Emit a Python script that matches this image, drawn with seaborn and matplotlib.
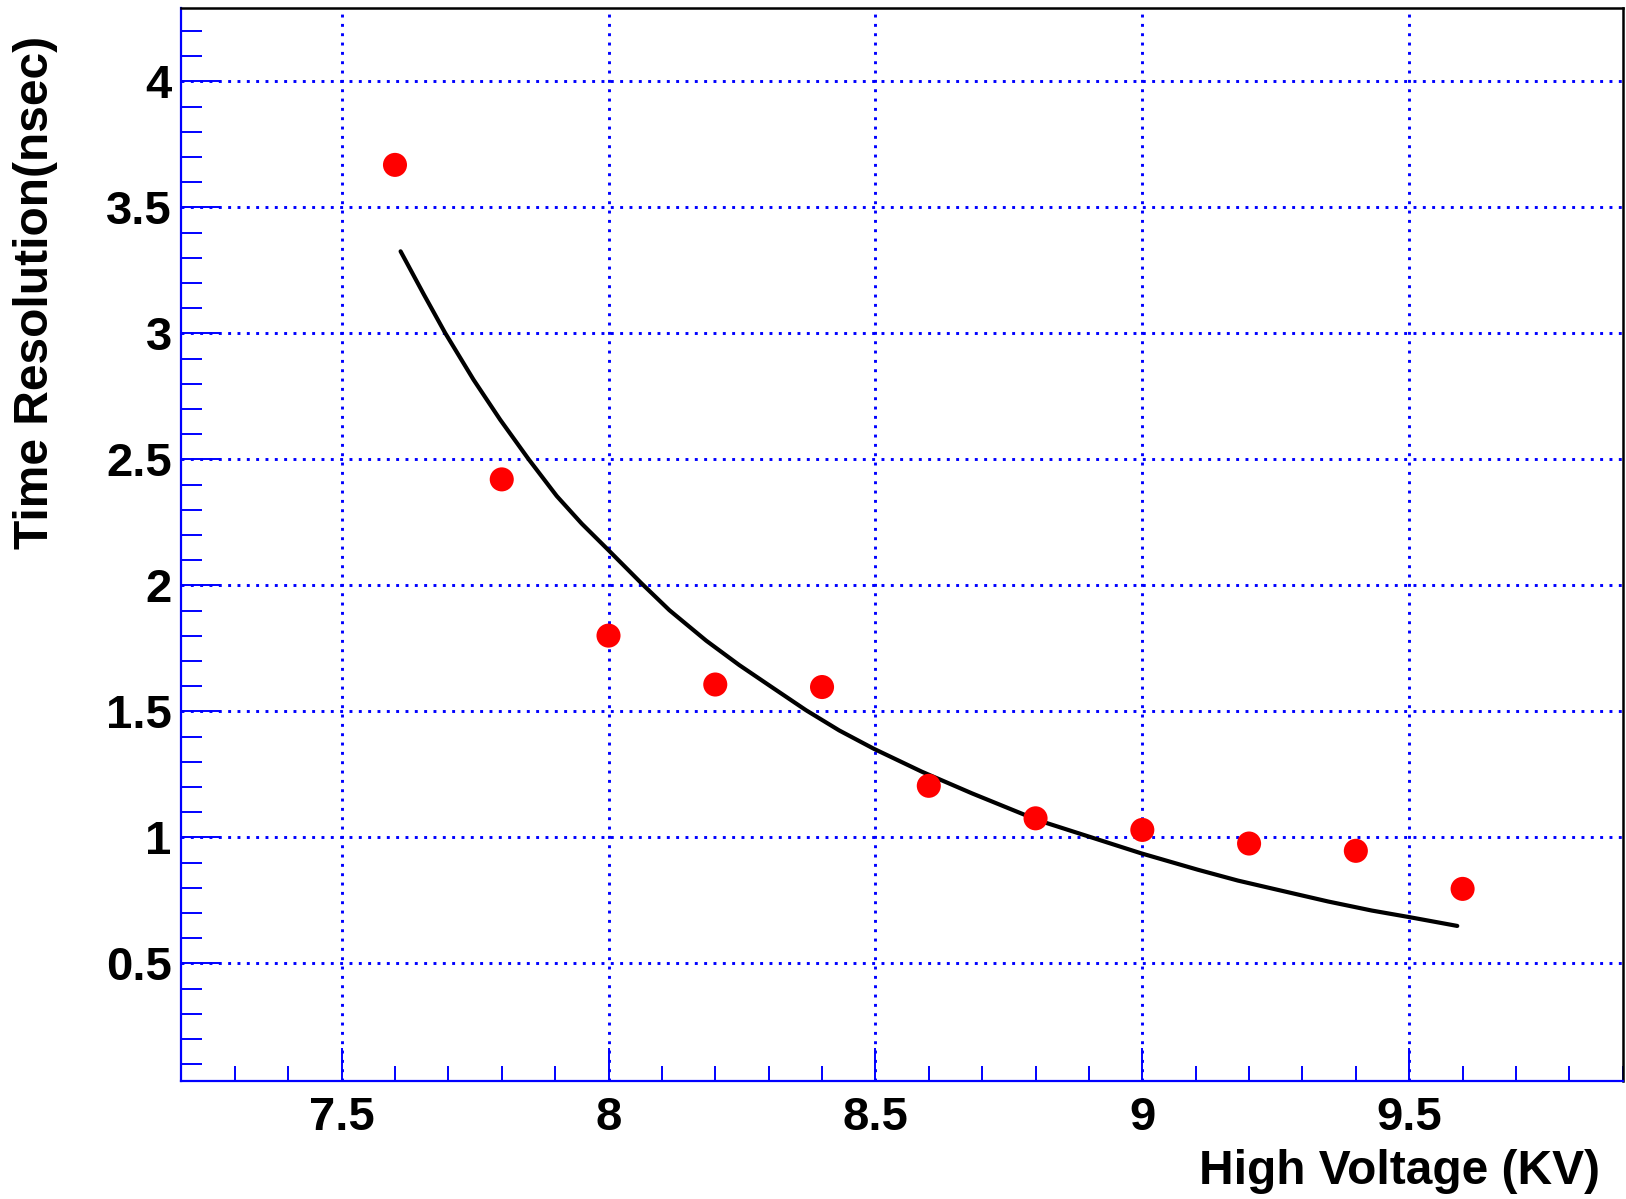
import matplotlib
matplotlib.use("Agg")
import matplotlib.pyplot as plt
from matplotlib.ticker import MultipleLocator, FuncFormatter
import seaborn as sns
import pandas as pd

# Measured points
hv = [7.6, 7.8, 8.0, 8.2, 8.4, 8.6, 8.8, 9.0, 9.2, 9.4, 9.6]
res = [3.669, 2.421, 1.801, 1.607, 1.597, 1.205, 1.076, 1.030, 0.976, 0.947, 0.796]

# Fit curve
fit_x = [7.6105, 7.654, 7.694, 7.747, 7.797, 7.850, 7.903, 7.950, 8.000, 8.062,
         8.114, 8.183, 8.245, 8.307, 8.370, 8.432, 8.497, 8.587, 8.681, 8.805,
         8.998, 9.104, 9.179, 9.248, 9.348, 9.430, 9.500, 9.590]
fit_y = [3.326, 3.155, 3.002, 2.817, 2.658, 2.502, 2.355, 2.245, 2.140, 2.008,
         1.902, 1.781, 1.684, 1.595, 1.505, 1.425, 1.352, 1.261, 1.175, 1.068,
         0.937, 0.872, 0.829, 0.795, 0.746, 0.710, 0.684, 0.649]

x_label = "High Voltage (KV)"
y_label = "Time Resolution(nsec)"

sns.set_style("white")
plt.rcParams["font.family"] = ["Liberation Sans", "DejaVu Sans"]
plt.rcParams["font.weight"] = "bold"
plt.rcParams["text.color"] = "black"
plt.rcParams["axes.labelcolor"] = "black"

fig = plt.figure(figsize=(16.26, 11.99), dpi=100)
ax = fig.add_axes([0.1116, 0.0987, 0.8864, 0.8943])

pts = pd.DataFrame({"hv": hv, "res": res})
fit = pd.DataFrame({"hv": fit_x, "res": fit_y})

sns.lineplot(data=fit, x="hv", y="res", ax=ax, color="black", linewidth=3.0,
             sort=False, estimator=None, zorder=3)
sns.scatterplot(data=pts, x="hv", y="res", ax=ax, color="#ff0000", s=300,
                edgecolor="none", linewidth=0, zorder=4)

ax.set_xlim(7.2, 9.9)
ax.set_ylim(0.035, 4.29)

ax.xaxis.set_major_locator(MultipleLocator(0.5))
ax.xaxis.set_minor_locator(MultipleLocator(0.1))
ax.yaxis.set_major_locator(MultipleLocator(0.5))
ax.yaxis.set_minor_locator(MultipleLocator(0.1))
fmt = FuncFormatter(lambda v, p: f"{v:g}")
ax.xaxis.set_major_formatter(fmt)
ax.yaxis.set_major_formatter(fmt)

ax.grid(True, which="major", color="#0000ff", linestyle=(0, (1.0, 2.2)), linewidth=2.1)
ax.set_axisbelow(True)

ax.tick_params(axis="x", which="major", direction="in", length=23.8, width=1.4,
               color="#0000ff", labelcolor="black", labelsize=34, pad=11,
               bottom=True, top=False)
ax.tick_params(axis="x", which="minor", direction="in", length=10.8, width=1.4,
               color="#0000ff", bottom=True, top=False)
ax.tick_params(axis="y", which="major", direction="in", length=28.8, width=1.4,
               color="#0000ff", labelcolor="black", labelsize=34, pad=7,
               left=True, right=False)
ax.tick_params(axis="y", which="minor", direction="in", length=15, width=1.4,
               color="#0000ff", left=True, right=False)
for lab in ax.get_xticklabels() + ax.get_yticklabels():
    lab.set_fontweight("bold")

for side in ["left", "bottom"]:
    ax.spines[side].set_color("#0000ff")
    ax.spines[side].set_linewidth(1.6)
for side in ["top", "right"]:
    ax.spines[side].set_color("black")
    ax.spines[side].set_linewidth(1.8)
    ax.spines[side].set_visible(True)

ax.set_xlabel(x_label, fontsize=34.5, fontweight="bold", color="black",
              ha="right", va="center")
ax.xaxis.set_label_coords(0.984, -0.085)
ax.set_ylabel(y_label, fontsize=34.5, fontweight="bold", color="black", rotation=90,
              rotation_mode="default", ha="center", va="top")
ax.yaxis.set_label_coords(-0.101, 0.974)

fig.savefig("out.png", dpi=100)
